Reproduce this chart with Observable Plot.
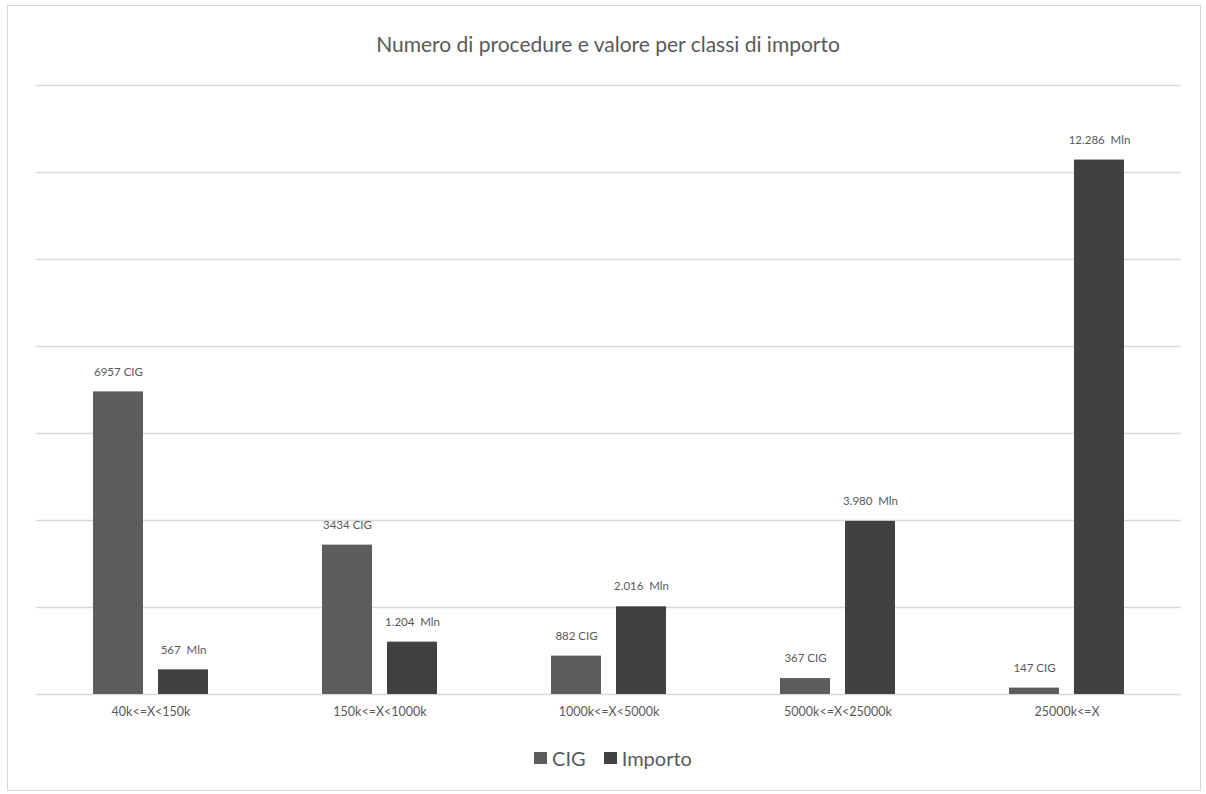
<!DOCTYPE html>
<html>
<head>
<meta charset="utf-8">
<script src="https://cdn.jsdelivr.net/npm/d3@7"></script>
<script src="https://cdn.jsdelivr.net/npm/@observablehq/plot@0.6"></script>
<style>
  body { margin: 0; background: #fff; }
  #wrap { position: relative; width: 1206px; height: 794px; overflow: hidden; font-family: Lato, "Open Sans", sans-serif; }
  #frame { position: absolute; left: 7px; top: 5px; width: 1194px; height: 786px; border: 1px solid #d6d6d6; box-sizing: border-box; }
  #title { position: absolute; left: 0; width: 1216px; top: 31px; text-align: center; font-size: 21px; color: #595959; font-weight: 400; }
  #chart { position: absolute; left: 0; top: 0; }
  #legend { position: absolute; left: 0; width: 1226px; top: 746px; display: flex; justify-content: center; gap: 18px; font-size: 20px; color: #595959; }
  #legend span { display: inline-flex; align-items: center; }
  #legend i { display: inline-block; width: 13px; height: 12px; margin-right: 5px; }
</style>
</head>
<body>
<div id="wrap">
  <div id="frame"></div>
  <div id="title">Numero di procedure e valore per classi di importo</div>
  <div id="chart"></div>
  <div id="legend"></div>
</div>
<script>
// Classes of contract value
const classes = ["40k<=X<150k", "150k<=X<1000k", "1000k<=X<5000k", "5000k<=X<25000k", "25000k<=X"];
// Number of procedures (CIG) per class
const cigValues = [6957, 3434, 882, 367, 147];
// Total value per class, millions of euro
const importoValues = [567, 1204, 2016, 3980, 12286];
const seriesNames = ["CIG", "Importo"];
const seriesColors = ["#5d5d5d", "#414141"];
const gridTicks = [0, 2000, 4000, 6000, 8000, 10000, 12000, 14000];

const itFormat = d3.formatLocale({decimal: ",", thousands: ".", grouping: [3], currency: ["€", ""]}).format(",d");

const rows = [];
classes.forEach((c, i) => {
  rows.push({classe: c, serie: "CIG", value: cigValues[i], label: `${cigValues[i]} CIG`});
  rows.push({classe: c, serie: "Importo", value: importoValues[i], label: `${itFormat(importoValues[i])}  Mln`});
});

const chart = Plot.plot({
  width: 1206,
  height: 794,
  marginLeft: 35,
  marginRight: 24,
  marginTop: 85,
  marginBottom: 100,
  style: {fontFamily: "Lato, 'Open Sans', sans-serif", color: "#595959", background: "transparent"},
  fx: {domain: classes, padding: 0, label: null},
  x: {domain: seriesNames, paddingInner: 0.23, paddingOuter: 0.85, axis: null},
  y: {domain: [0, 14000], axis: null},
  color: {domain: seriesNames, range: seriesColors},
  marks: [
    Plot.ruleY(gridTicks, {stroke: "#d9d9d9", strokeWidth: 1.3}),
    Plot.barY(rows, {fx: "classe", x: "serie", y: "value", fill: "serie"}),
    Plot.text(rows, {fx: "classe", x: "serie", y: "value", text: "label", dy: -20, fill: "#595959", fontSize: 11.5, style: "white-space: pre"}),
    Plot.axisFx({anchor: "bottom", tickSize: 0, tickPadding: 13, fontSize: 12.5, label: null, fill: "#595959"})
  ]
});
chart.querySelectorAll("text").forEach(t => t.setAttribute("xml:space", "preserve"));
document.getElementById("chart").appendChild(chart);

const legend = document.getElementById("legend");
seriesNames.forEach((s, i) => {
  const span = document.createElement("span");
  span.innerHTML = `<i style="background:${seriesColors[i]}"></i>${s}`;
  legend.appendChild(span);
});
</script>
</body>
</html>
